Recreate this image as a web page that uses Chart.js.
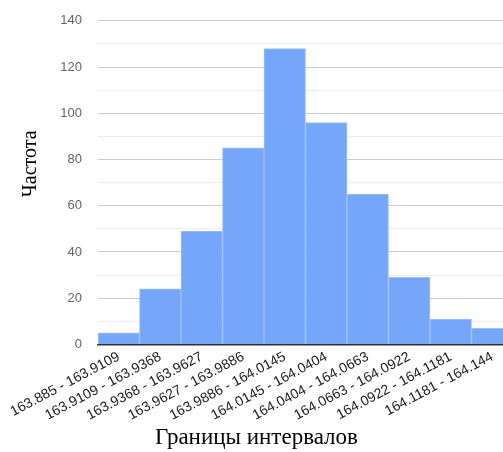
<!DOCTYPE html>
<html>
<head>
<meta charset="utf-8">
<script src="https://cdn.jsdelivr.net/npm/chart.js@4"></script>
<style>
  html, body { margin: 0; padding: 0; background: #fff; overflow: hidden; }
  #wrap { width: 516px; height: 457px; margin-top: -3px; }
</style>
</head>
<body>
<div id="wrap"><canvas id="histChart"></canvas></div>
<script>
const intervals = [
    '163.885 - 163.9109', '163.9109 - 163.9368', '163.9368 - 163.9627',
    '163.9627 - 163.9886', '163.9886 - 164.0145', '164.0145 - 164.0404',
    '164.0404 - 164.0663', '164.0663 - 164.0922', '164.0922 - 164.1181',
    '164.1181 - 164.144'
];
const counts = [5, 24, 49, 85, 128, 96, 65, 29, 11, 7];
const yTicks = [0, 20, 40, 60, 80, 100, 120, 140];

const barBlue = '#76a6fa';
const serif = '"Liberation Serif", "Times New Roman", serif';

// y axis title sits a bit above the middle, like the original
const yTitlePlugin = {
    id: 'yTitle',
    afterDraw(chart) {
        const { ctx, chartArea } = chart;
        ctx.save();
        ctx.translate(31, chartArea.top + 143);
        ctx.rotate(-Math.PI / 2);
        ctx.font = '20px ' + serif;
        ctx.fillStyle = '#000';
        ctx.textAlign = 'center';
        ctx.textBaseline = 'middle';
        ctx.fillText('Частота', 0, 0);
        ctx.restore();
    },
};

new Chart(document.getElementById('histChart'), {
    type: 'bar',
    data: {
        labels: intervals,
        datasets: [{
            label: 'Частота',
            data: counts,
            backgroundColor: barBlue,
            borderColor: '#9cc0fb',
            borderWidth: 1,
            categoryPercentage: 1,
            barPercentage: 1,
        }],
    },
    options: {
        responsive: true,
        maintainAspectRatio: false,
        animation: false,
        layout: { padding: { top: 16, right: 3, bottom: 0, left: 0 } },
        plugins: {
            legend: { display: false },
            tooltip: { enabled: false },
            title: {
                display: true,
                position: 'bottom',
                text: 'Границы интервалов',
                color: '#000',
                font: { family: serif, size: 23, weight: 'normal' },
                padding: { top: 0, bottom: 2 },
            },
        },
        scales: {
            x: {
                grid: { display: false, drawTicks: false },
                border: { color: '#333', width: 1.5 },
                ticks: {
                    color: '#222',
                    font: { family: 'Arial, "Liberation Sans"', size: 14 },
                    minRotation: 28,
                    maxRotation: 28,
                    autoSkip: false,
                    padding: 4,
                },
                afterFit: (scale) => { scale.height = 80; },
            },
            y: {
                min: 0,
                max: 140,
                grid: {
                    drawTicks: false,
                    color: (ctx) => (ctx.tick.value % 20 === 0 ? '#cccccc' : '#ececec'),
                },
                border: { display: false },
                ticks: {
                    stepSize: 10,
                    color: '#666',
                    font: { family: 'Arial, "Liberation Sans"', size: 13 },
                    padding: 16,
                    callback: (v) => (yTicks.includes(v) ? v : ''),
                },
                afterFit: (scale) => { scale.width = 98; },
            },
        },
    },
    plugins: [yTitlePlugin],
});
</script>
</body>
</html>
